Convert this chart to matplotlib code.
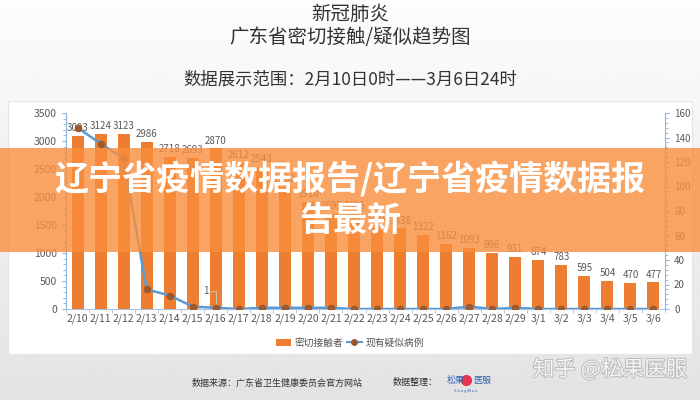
import numpy as np
import matplotlib
matplotlib.use("Agg")
import matplotlib.pyplot as plt
import matplotlib.patheffects as pe
from matplotlib.patches import Rectangle, Patch
from matplotlib.lines import Line2D
from matplotlib.ticker import MultipleLocator

plt.rcParams['font.family'] = ['Noto Sans CJK SC', 'DejaVu Sans']

# === 数据 ===
dates = ["2/10", "2/11", "2/12", "2/13", "2/14", "2/15", "2/16", "2/17", "2/18",
         "2/19", "2/20", "2/21", "2/22", "2/23", "2/24", "2/25", "2/26", "2/27",
         "2/28", "2/29", "3/1", "3/2", "3/3", "3/4", "3/5", "3/6"]
contacts = [3093, 3124, 3123, 2986, 2718, 2693, 2870, 2612, 2543,
            2180, 1910, 1695, 1696, 1510, 1438, 1322, 1162, 1093,
            996, 931, 874, 783, 595, 504, 470, 477]
suspected = [148, 135, 123, 16, 11, 2, 1, 0, 1,
             1, 1, 1, 0, 0, 0, 0, 0, 2,
             0, 1, 0, 0, 0, 0, 0, 0]

W, H = 700, 400
fig = plt.figure(figsize=(7, 4), dpi=100)

# 背景渐变
bg = fig.add_axes([0, 0, 1, 1], zorder=-10)
grad = np.linspace(0.99, 0.89, 256).reshape(-1, 1)
bg.imshow(grad, aspect='auto', cmap='gray', vmin=0, vmax=1, extent=[0, 1, 0, 1])
bg.axis('off')

# 白色卡片
card = Rectangle((8 / W, 1 - 354 / H), 684 / W, 253 / H, transform=fig.transFigure,
                 facecolor='white', edgecolor='#e6e6e6', linewidth=0.8, zorder=-5)
fig.add_artist(card)

# 标题
fig.text(0.5, 1 - 14 / H, "新冠肺炎", ha='center', va='center', fontsize=14, color='#333333')
fig.text(0.5, 1 - 38 / H, "广东省密切接触/疑似趋势图", ha='center', va='center', fontsize=14, color='#333333')
fig.text(0.5, 1 - 80 / H, "数据展示范围：2月10日0时——3月6日24时", ha='center', va='center',
         fontsize=12.5, color='#333333')

# 主图
ax = fig.add_axes([66 / W, 91 / H, 599 / W, 196 / H])
ax.set_facecolor('none')
x = np.arange(len(dates))
ax.bar(x, contacts, width=0.52, color='#ED7D31', zorder=2)
for i, v in enumerate(contacts):
    ax.annotate(str(v), (i, v), xytext=(0, 2), textcoords='offset points',
                ha='center', va='bottom', fontsize=7, color='#595959')
ax.set_xlim(-0.5, len(dates) - 0.5)
ax.set_ylim(0, 3500)
ax.set_xticks(x)
ax.set_xticklabels(dates, fontsize=7.5, color='#595959')
ax.set_xticks(np.arange(-0.5, len(dates), 1), minor=True)
ax.tick_params(axis='x', which='major', length=0, pad=3)
ax.tick_params(axis='x', which='minor', length=3, color='#a9c4e0')
ax.yaxis.set_major_locator(MultipleLocator(500))
ax.yaxis.set_minor_locator(MultipleLocator(100))
ax.tick_params(axis='y', which='major', labelsize=7.5, labelcolor='#595959', length=3, color='#8fb4d9')
ax.tick_params(axis='y', which='minor', length=2, color='#8fb4d9')
for s in ['top', 'right']:
    ax.spines[s].set_visible(False)
ax.spines['left'].set_color('#8fb4d9')
ax.spines['bottom'].set_color('#a9c4e0')

ax2 = ax.twinx()
ax2.plot(x, suspected, color='#5B9BD5', linewidth=1.8, marker='o', markersize=4.5,
         markerfacecolor='#9C5A2C', markeredgecolor='#9C5A2C', zorder=3)
ax2.plot([5.7, 6.0, 6.0], [15, 15, 1.5], color='#cccccc', linewidth=0.6)
ax2.text(5.55, 15, "1", ha='center', va='center', fontsize=7, color='#595959')
ax2.set_ylim(0, 160)
ax2.yaxis.set_major_locator(MultipleLocator(20))
ax2.yaxis.set_minor_locator(MultipleLocator(4))
ax2.tick_params(axis='y', which='major', labelsize=7, labelcolor='#595959', length=3, color='#8fb4d9')
ax2.tick_params(axis='y', which='minor', length=2, color='#8fb4d9')
for s in ['top', 'left', 'bottom']:
    ax2.spines[s].set_visible(False)
ax2.spines['right'].set_color('#8fb4d9')

# 图例
handles = [Patch(facecolor='#ED7D31'),
           Line2D([0], [0], color='#5B9BD5', lw=1.5, marker='o', markersize=4,
                  markerfacecolor='#9C5A2C', markeredgecolor='#9C5A2C')]
fig.legend(handles, ["密切接触者", "现有疑似病例"], loc='center', bbox_to_anchor=(0.5, 1 - 343 / H),
           ncol=2, frameon=False, fontsize=7, handlelength=1.5, handleheight=0.8,
           columnspacing=0.4, handletextpad=0.4, labelcolor='#555555')

# 底部说明
fig.text(192 / W, 1 - 383 / H, "数据来源：广东省卫生健康委员会官方网站", ha='left', va='center',
         fontsize=6.5, color='#333333')
fig.text(393 / W, 1 - 383 / H, "数据整理：", ha='left', va='center', fontsize=6.5, color='#333333')
fig.text(447 / W, 1 - 380 / H, "松果", ha='left', va='center', fontsize=6.5, color='#2f5fb3')
fig.text(473 / W, 1 - 380 / H, "医服", ha='left', va='center', fontsize=6.5, color='#2f5fb3')
fig.add_artist(Line2D([466 / W], [1 - 380 / H], marker='o', markersize=7, color='#e8344e',
                      transform=fig.transFigure))
fig.text(466 / W, 1 - 391 / H, "S o n g M a o", ha='center', va='center', fontsize=3, color='#2f5fb3')

# 水印
fig.text(610 / W, 1 - 370 / H, "知乎 @松果医服", ha='center', va='center', fontsize=15.5,
         color='#f6f6f6', path_effects=[pe.withStroke(linewidth=1.2, foreground='#b5b5b5')])

# 橙色横幅
banner = Rectangle((0, 1 - 252 / H), 1, 104 / H, transform=fig.transFigure,
                   facecolor='#F98E3C', alpha=0.8, edgecolor='none', zorder=10)
fig.add_artist(banner)
fig.text(0.5, 1 - 179 / H, "辽宁省疫情数据报告/辽宁省疫情数据报", ha='center', va='center',
         fontsize=24.5, fontweight='heavy', color='white', zorder=11)
fig.text(0.5, 1 - 221 / H, "告最新", ha='center', va='center',
         fontsize=24.5, fontweight='heavy', color='white', zorder=11)

fig.savefig("out.png", dpi=100)
